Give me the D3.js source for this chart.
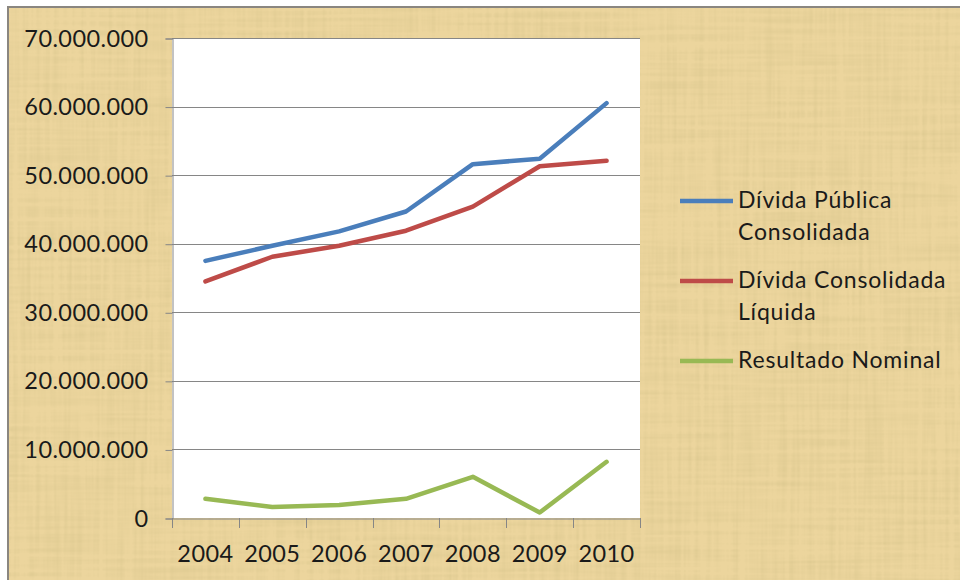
<!DOCTYPE html>
<html>
<head>
<meta charset="utf-8">
<script src="https://cdn.jsdelivr.net/npm/d3@7"></script>
<style>
  html, body { margin: 0; padding: 0; background: #fff; }
  svg { display: block; }
  text { font-family: Lato, "Open Sans", sans-serif; fill: #1a1a1a; }
</style>
</head>
<body>
<script>
var years = ["2004", "2005", "2006", "2007", "2008", "2009", "2010"];
var dividaPublica = [37500000, 39700000, 41800000, 44700000, 51600000, 52400000, 60500000];
var dividaLiquida = [34500000, 38100000, 39700000, 41900000, 45400000, 51300000, 52100000];
var resultadoNominal = [2800000, 1600000, 1900000, 2800000, 6000000, 800000, 8200000];
var seriesNames = [["Dívida Pública", "Consolidada"], ["Dívida Consolidada", "Líquida"], ["Resultado Nominal"]];
var seriesColors = ["#4a7ebb", "#be4b48", "#98b954"];
var yTicks = [0, 10000000, 20000000, 30000000, 40000000, 50000000, 60000000, 70000000];

var width = 960, height = 580;
var plot = {left: 172, top: 38, right: 640, bottom: 518};

var svg = d3.select("body").append("svg")
    .attr("width", width)
    .attr("height", height);

// papyrus texture
var defs = svg.append("defs");
var f = defs.append("filter").attr("id", "papyrus")
    .attr("x", 0).attr("y", 0).attr("width", "100%").attr("height", "100%");
f.append("feTurbulence").attr("type", "fractalNoise")
    .attr("baseFrequency", "0.008 0.22").attr("numOctaves", 2).attr("seed", 4).attr("result", "h");
f.append("feTurbulence").attr("type", "fractalNoise")
    .attr("baseFrequency", "0.22 0.008").attr("numOctaves", 2).attr("seed", 9).attr("result", "v");
f.append("feComposite").attr("in", "h").attr("in2", "v")
    .attr("operator", "arithmetic").attr("k2", 0.5).attr("k3", 0.5).attr("result", "n");
f.append("feColorMatrix").attr("in", "n").attr("type", "matrix")
    .attr("values", "0 0 0 0 0.66  0 0 0 0 0.54  0 0 0 0 0.25  1.3 0 0 0 -0.52");

svg.append("rect")
    .attr("x", 8).attr("y", 7).attr("width", width - 8).attr("height", height - 7)
    .attr("fill", "#ecd59d");
svg.append("rect")
    .attr("x", 8).attr("y", 7).attr("width", width - 8).attr("height", height - 7)
    .attr("filter", "url(#papyrus)");
svg.append("path")
    .attr("d", "M8," + height + "V7H" + width)
    .attr("fill", "none").attr("stroke", "#8a8680").attr("stroke-width", 2);

// plot area
svg.append("rect")
    .attr("x", plot.left).attr("y", plot.top)
    .attr("width", plot.right - plot.left).attr("height", plot.bottom - plot.top)
    .attr("fill", "#fff");

var x = d3.scaleBand().domain(years).range([plot.left, plot.right]);
var y = d3.scaleLinear().domain([0, 70000000]).range([plot.bottom, plot.top]);

var fmt = function(d) { return d3.format(",")(d).replace(/,/g, "."); };

// gridlines
svg.append("g").selectAll("line")
    .data(yTicks.slice(1))
  .enter().append("line")
    .attr("x1", plot.left).attr("x2", plot.right)
    .attr("y1", function(d) { return Math.round(y(d)) + 0.5; })
    .attr("y2", function(d) { return Math.round(y(d)) + 0.5; })
    .attr("stroke", "#868686").attr("stroke-width", 1);

var yAxis = svg.append("g")
    .attr("transform", "translate(" + (plot.left + 0.5) + ",0.5)")
    .call(d3.axisLeft(y).tickValues(yTicks).tickFormat(fmt).tickSize(7).tickPadding(17));
var xAxis = svg.append("g")
    .attr("transform", "translate(0," + (plot.bottom + 0.5) + ")")
    .call(d3.axisBottom(x).tickSize(0).tickPadding(27));

[yAxis, xAxis].forEach(function(a) {
    a.select(".domain").attr("stroke", "#868686");
    a.selectAll(".tick line").attr("stroke", "#868686");
    a.selectAll("text").attr("font-size", 23.5).attr("letter-spacing", 0.4)
        .attr("font-family", "Lato, sans-serif").attr("fill", "#1a1a1a");
});

// category separator ticks on x axis
svg.append("g").selectAll("line")
    .data(years.concat(["end"]))
  .enter().append("line")
    .attr("x1", function(d, i) { return Math.round(plot.left + i * x.step()) + 0.5; })
    .attr("x2", function(d, i) { return Math.round(plot.left + i * x.step()) + 0.5; })
    .attr("y1", plot.bottom).attr("y2", plot.bottom + 10)
    .attr("stroke", "#868686");

// lines
var allSeries = [dividaPublica, dividaLiquida, resultadoNominal];
var line = d3.line()
    .x(function(d, i) { return x(years[i]) + x.bandwidth() / 2; })
    .y(function(d) { return y(d); });

svg.append("g").selectAll("path")
    .data(allSeries)
  .enter().append("path")
    .attr("d", line)
    .attr("fill", "none")
    .attr("stroke", function(d, i) { return seriesColors[i]; })
    .attr("stroke-width", 4.5)
    .attr("stroke-linejoin", "round")
    .attr("stroke-linecap", "round");

// legend
var legendY = [201, 281, 361];
var legend = svg.append("g").selectAll("g")
    .data(seriesNames)
  .enter().append("g")
    .attr("transform", function(d, i) { return "translate(680," + legendY[i] + ")"; });
legend.append("line")
    .attr("x1", 0).attr("x2", 53)
    .attr("stroke", function(d, i) { return seriesColors[i]; })
    .attr("stroke-width", 4.5);
legend.each(function(d) {
    var t = d3.select(this).append("text")
        .attr("x", 58).attr("y", 7)
        .attr("font-size", 23).attr("letter-spacing", 0.8);
    d.forEach(function(s, j) {
        t.append("tspan").attr("x", 58).attr("dy", j === 0 ? 0 : 32).text(s);
    });
});
</script>
</body>
</html>
